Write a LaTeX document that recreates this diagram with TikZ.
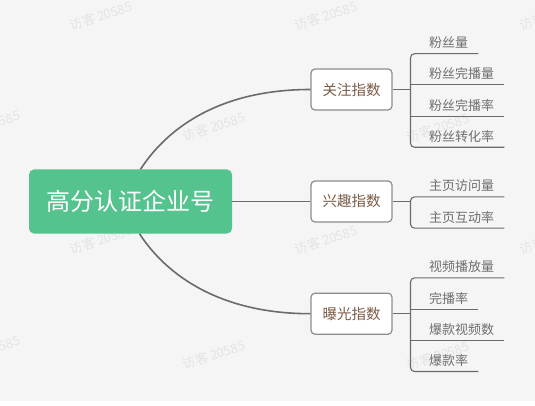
\documentclass[tikz,border=0pt]{standalone}
\usepackage{fontspec}
\setmainfont{Noto Sans CJK SC}
\definecolor{bgcol}{HTML}{F5F5F5}
\definecolor{rootgreen}{HTML}{55C38D}
\definecolor{linecol}{HTML}{6B6B6B}
\definecolor{boxline}{HTML}{8C8C8C}
\definecolor{branchtext}{HTML}{7A5C46}
\definecolor{leaftext}{HTML}{6E6E6E}
\definecolor{wmcol}{HTML}{E4E4E4}
\tikzset{
  root/.style={fill=rootgreen, text=white, rounded corners=5pt, minimum width=203pt, minimum height=64pt, font=\fontsize{24}{28}\selectfont},
  branch/.style={draw=boxline, fill=white, line width=1.2pt, rounded corners=4pt, text=branchtext, minimum width=81pt, minimum height=41pt, font=\fontsize{14.5}{17}\selectfont},
  leaf/.style={anchor=west, inner xsep=10pt, inner ysep=0pt, minimum height=21.6pt, text=leaftext, font=\fontsize{13}{15}\selectfont},
  trunk/.style={draw=linecol, line width=1.6pt},
  twig/.style={draw=linecol, line width=1.1pt},
  wmark/.style={text=wmcol, rotate=18, font=\fontsize{13}{15}\selectfont}
}
\begin{document}
\begin{tikzpicture}[x=1pt,y=-1pt]
\clip (0,0) rectangle (535,406);
\fill[bgcol] (0,0) rectangle (535,401);
%\draw[red] (0,0) grid[step=50] (535,406);
\foreach \wx/\wy in {101/16, 326/16, 551/16, -11/125, 214/127, 438/128, 101/240, 326/240, 551/240, -11/350, 214/355, 438/356}
  \node[wmark] at (\wx,\wy) {访客 20585};

\node[root] (root) at (130.5,201.5) {高分认证企业号};
\node[branch] (guanzhu) at (351.5,89.5) {关注指数};
\node[branch] (xingqu) at (351.5,201.5) {兴趣指数};
\node[branch] (baoguang) at (351.5,313.7) {曝光指数};

\draw[trunk] ([xshift=10pt]root.north) .. controls +(27.2,-41.9) and +(-90,0) .. (guanzhu.west);
\draw[trunk] (root.east) -- (xingqu.west);
\draw[trunk] ([xshift=9pt]root.south) .. controls +(27.2,41.9) and +(-90,0) .. (baoguang.west);

\coordinate (gzfork) at (410.5,89.5);
\coordinate (xqfork) at (410.5,201.5);
\coordinate (bgfork) at (410.5,313.7);

\foreach \t [count=\i] in {粉丝量,粉丝完播量,粉丝完播率,粉丝转化率}
  \node[leaf] (gz\i) at (419,89.5+31.2*\i-78) {\t};
\foreach \t [count=\i] in {主页访问量,主页互动率}
  \node[leaf] (xq\i) at (419,201.5+31.2*\i-46.8) {\t};
\foreach \t [count=\i] in {视频播放量,完播率,爆款视频数,爆款率}
  \node[leaf] (bg\i) at (419,313.7+31.2*\i-78) {\t};

\draw[twig] (guanzhu.east) -- (gzfork);
\draw[twig] (xingqu.east) -- (xqfork);
\draw[twig] (baoguang.east) -- (bgfork);

\draw[twig,rounded corners=4pt] (gz1.south east) -- (gzfork |- gz1.south) -- (gzfork |- gz4.south) -- (gz4.south east);
\draw[twig,rounded corners=4pt] (xq1.south east) -- (xqfork |- xq1.south) -- (xqfork |- xq2.south) -- (xq2.south east);
\draw[twig,rounded corners=4pt] (bg1.south east) -- (bgfork |- bg1.south) -- (bgfork |- bg4.south) -- (bg4.south east);
\foreach \i in {2,3}
  \draw[twig] (gzfork |- gz\i.south) -- (gz\i.south east);
\foreach \i in {2,3}
  \draw[twig] (bgfork |- bg\i.south) -- (bg\i.south east);
\end{tikzpicture}
\end{document}
